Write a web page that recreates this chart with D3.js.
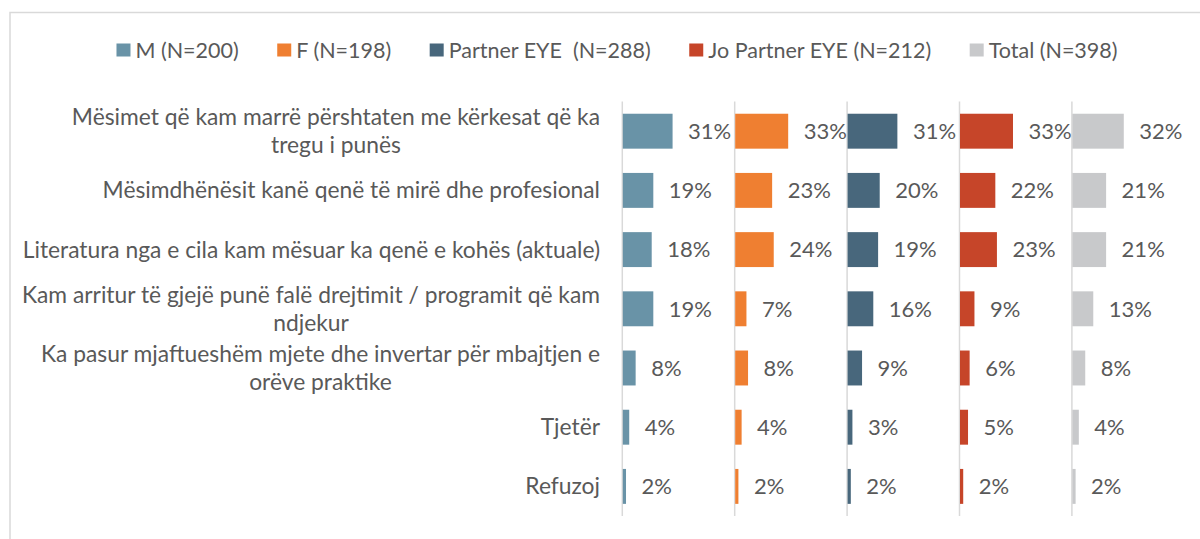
<!DOCTYPE html>
<html>
<head>
<meta charset="utf-8">
<script src="https://cdn.jsdelivr.net/npm/d3@7"></script>
<style>
  body { margin: 0; background: #fff; }
  svg text { font-family: Lato, "Open Sans", sans-serif; fill: #595959; white-space: pre; }
</style>
</head>
<body>
<div class="chart"></div>
<script>
const categories = [
    "Mësimet që kam marrë përshtaten me kërkesat që ka\ntregu i punës",
    "Mësimdhënësit kanë qenë të mirë dhe profesional",
    "Literatura nga e cila kam mësuar ka qenë e kohës (aktuale)",
    "Kam arritur të gjejë punë falë drejtimit / programit që kam\nndjekur",
    "Ka pasur mjaftueshëm mjete dhe invertar për mbajtjen e\norëve praktike",
    "Tjetër",
    "Refuzoj"
];

const seriesNames = ["M (N=200)", "F (N=198)", "Partner EYE  (N=288)", "Jo Partner EYE (N=212)", "Total (N=398)"];
const seriesColors = ["#6993a7", "#ef7f31", "#48677c", "#c64529", "#c8c9cb"];

const valuesM = [0.31, 0.19, 0.18, 0.19, 0.08, 0.04, 0.02];
const valuesF = [0.33, 0.23, 0.24, 0.07, 0.08, 0.04, 0.02];
const valuesPartner = [0.31, 0.20, 0.19, 0.16, 0.09, 0.03, 0.02];
const valuesJoPartner = [0.33, 0.22, 0.23, 0.09, 0.06, 0.05, 0.02];
const valuesTotal = [0.32, 0.21, 0.21, 0.13, 0.08, 0.04, 0.02];

const allValues = [valuesM, valuesF, valuesPartner, valuesJoPartner, valuesTotal];

const width = 1200;
const height = 539;
const fontSize = 22.8;

const svg = d3.select(".chart").append("svg")
    .attr("width", width)
    .attr("height", height);

// outer frame
svg.append("rect")
    .attr("x", 10)
    .attr("y", 12.5)
    .attr("width", width)
    .attr("height", height)
    .attr("fill", "none")
    .attr("stroke", "#d9d9d9")
    .attr("stroke-width", 1.5);

// one panel per series
const panelX = d3.scaleBand()
    .domain(seriesNames)
    .range([622.3, 622.3 + 5 * 112.4]);

const x = d3.scaleLinear()
    .domain([0, 0.7])
    .range([0, panelX.bandwidth()]);

const y = d3.scaleBand()
    .domain(categories)
    .range([101.6, 516])
    .paddingInner(0.41)
    .paddingOuter(0.205);

const rows = seriesNames.flatMap((s, si) => categories.map((c, ci) => ({
    series: s,
    color: seriesColors[si],
    category: c,
    value: allValues[si][ci]
})));

// category labels, multi-line centred, block right aligned
const labelRight = 600;
const catGroups = svg.selectAll(".cat")
    .data(categories)
    .enter().append("text")
    .attr("class", "cat")
    .attr("font-size", fontSize);

catGroups.each(function(d) {
    const lines = d.split("\n");
    const t = d3.select(this);
    const lineH = 28.5;
    const cy = y(d) + y.bandwidth() / 2;
    lines.forEach((line, i) => {
        t.append("tspan")
            .attr("y", cy + (i - (lines.length - 1) / 2) * lineH)
            .attr("dy", "0.35em")
            .text(line);
    });
    const tspans = t.selectAll("tspan");
    const maxW = d3.max(tspans.nodes(), n => n.getComputedTextLength());
    tspans.attr("x", labelRight - maxW / 2).attr("text-anchor", "middle");
});

// axis lines
svg.selectAll(".axisLine")
    .data(seriesNames)
    .enter().append("line")
    .attr("class", "axisLine")
    .attr("x1", d => panelX(d))
    .attr("x2", d => panelX(d))
    .attr("y1", 101.6)
    .attr("y2", 516)
    .attr("stroke", "#d9d9d9")
    .attr("stroke-width", 1.5);

// bars
svg.selectAll(".bar")
    .data(rows)
    .enter().append("rect")
    .attr("class", "bar")
    .attr("x", d => panelX(d.series) + 0.5)
    .attr("y", d => y(d.category))
    .attr("width", d => x(d.value))
    .attr("height", y.bandwidth())
    .attr("fill", d => d.color);

// value labels
svg.selectAll(".valueLabel")
    .data(rows)
    .enter().append("text")
    .attr("class", "valueLabel")
    .attr("x", d => panelX(d.series) + x(d.value) + 16)
    .attr("y", d => y(d.category) + y.bandwidth() / 2)
    .attr("dy", "0.35em")
    .attr("font-size", 22)
    .text(d => d3.format(".0%")(d.value));

// legend
const legend = svg.append("g").attr("class", "legend");
const items = legend.selectAll("g")
    .data(seriesNames)
    .enter().append("g");

items.append("rect")
    .attr("x", 0)
    .attr("y", 43.5)
    .attr("width", 14)
    .attr("height", 13)
    .attr("fill", (d, i) => seriesColors[i]);

items.append("text")
    .attr("x", 19)
    .attr("y", 50)
    .attr("dy", "0.35em")
    .attr("font-size", 21.5)
    .text(d => d);

const widths = items.select("text").nodes().map(n => 19 + n.getComputedTextLength());
const gap = 38.5;
const total = d3.sum(widths) + gap * (widths.length - 1);
let cursor = 617 - total / 2;
items.attr("transform", (d, i) => {
    const tx = cursor;
    cursor += widths[i] + gap;
    return `translate(${tx},0)`;
});
</script>
</body>
</html>
